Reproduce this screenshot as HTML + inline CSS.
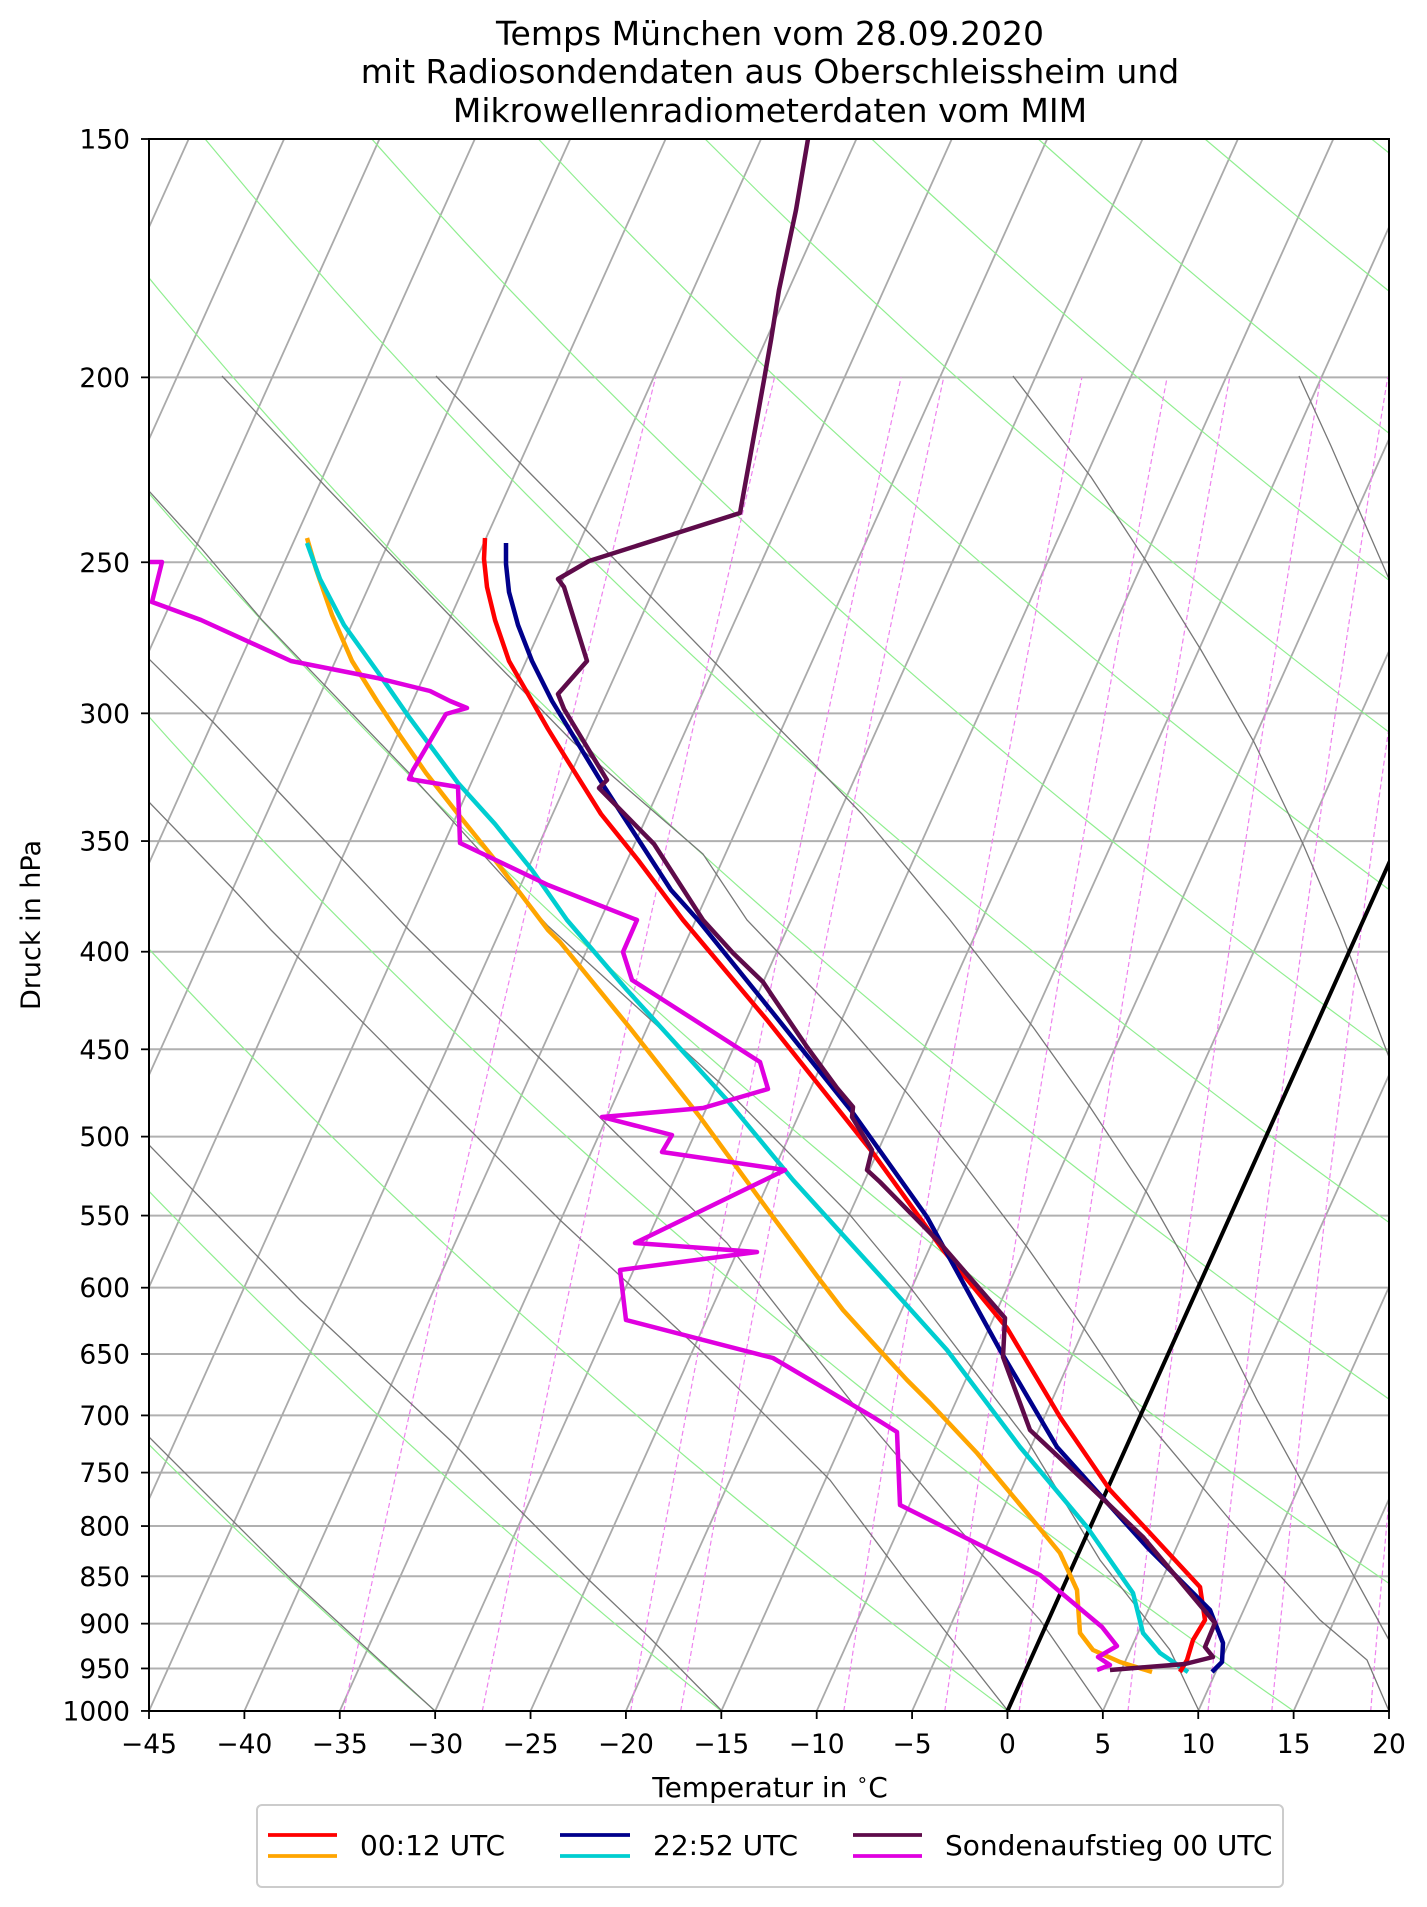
<!DOCTYPE html>
<html><head><meta charset="utf-8"><style>html,body{margin:0;padding:0;background:#fff}svg{display:block}</style></head>
<body>
<svg id="s" xmlns="http://www.w3.org/2000/svg" width="1427" height="1907" viewBox="0 0 1427 1907" font-family="DejaVu Sans, Liberation Sans, sans-serif">
<rect width="1427" height="1907" fill="#fff"/>
<defs><clipPath id="c"><rect x="149" y="139" width="1240" height="1572"/></clipPath></defs>
<g id="grid" clip-path="url(#c)"></g>
<g id="data" clip-path="url(#c)" fill="none" stroke-linejoin="round" stroke-linecap="butt"></g>
<rect x="149" y="139" width="1240" height="1572" fill="none" stroke="#000" stroke-width="2"/>
<g id="ticks"></g>
<g font-size="33" text-anchor="middle" fill="#000">
<text x="770" y="45">Temps München vom 28.09.2020</text>
<text x="770" y="83">mit Radiosondendaten aus Oberschleissheim und</text>
<text x="770" y="122">Mikrowellenradiometerdaten vom MIM</text>
</g>
<text x="770" y="1797" font-size="28" text-anchor="middle">Temperatur in <tspan font-size="19" dy="-11">∘</tspan><tspan dy="11">C</tspan></text>
<text transform="translate(40,925) rotate(-90)" font-size="27" text-anchor="middle">Druck in hPa</text>
<rect x="257" y="1805" width="1026" height="82" rx="5" fill="#fff" stroke="#ccc" stroke-width="2"/>
<g stroke-width="3.8">
<line x1="268" y1="1835" x2="337" y2="1835" stroke="#ff0000"/>
<line x1="268" y1="1856" x2="337" y2="1856" stroke="#ffa500"/>
<line x1="560" y1="1835" x2="630" y2="1835" stroke="#00008b"/>
<line x1="560" y1="1856" x2="630" y2="1856" stroke="#00ced1"/>
<line x1="853" y1="1835" x2="922" y2="1835" stroke="#5e0b4a"/>
<line x1="853" y1="1856" x2="922" y2="1856" stroke="#e000e0"/>
</g>
<g font-size="28" fill="#000">
<text x="360" y="1855">00:12 UTC</text>
<text x="653" y="1855">22:52 UTC</text>
<text x="945" y="1855">Sondenaufstieg 00 UTC</text>
</g>
</svg>
<script>
(function(){
var NS="http://www.w3.org/2000/svg";
var L=149,R=1389,T=139,B=1711,K=828.6,PX=19.077,SK=0.45;
function Y(p){return T+K*Math.log(p/150);}
function X(t,p){return L+(t+45)*PX+SK*(B-Y(p));}
var grid=document.getElementById('grid'),data=document.getElementById('data'),ticks=document.getElementById('ticks');
function el(par,tag,a){var e=document.createElementNS(NS,tag);for(var k in a)e.setAttribute(k,a[k]);par.appendChild(e);return e;}
function poly(par,pts,a){a.points=pts.map(function(q){return q[0].toFixed(1)+','+q[1].toFixed(1)}).join(' ');a.fill='none';return el(par,'polyline',a);}
var plev=[150,200,250,300,350,400,450,500,550,600,650,700,750,800,850,900,950,1000];
plev.forEach(function(p){el(grid,'line',{x1:L,x2:R,y1:Y(p),y2:Y(p),stroke:'#b0b0b0','stroke-width':2});});
for(var t=-160;t<=20;t+=5){el(grid,'line',{x1:X(t,1000),y1:Y(1000),x2:X(t,150),y2:Y(150),stroke:'#aaaaaa','stroke-width':1.8});}
for(var k=-4;k<=12;k++){var th=288.15+15*k,pts=[];for(var p=1000;p>=140;p-=10){pts.push([X(th*Math.pow(p/1000,0.285)-273.15,p),Y(p)]);}poly(grid,pts,{stroke:'#90ee90','stroke-width':1.2});}
[0.2,0.4,0.8,1,2,3,4,6,8,10,14].forEach(function(w){var pts=[];for(var p=1000;p>=200;p-=10){var e=w*p/(622+w),l=Math.log(e/6.112),td=243.5*l/(17.67-l);pts.push([X(td,p),Y(p)]);}poly(grid,pts,{stroke:'#ee82ee','stroke-width':1.2,'stroke-dasharray':'5,3'});});
var M=[
[[222,376],[326,487],[454,620],[573,742],[703,854],[747,920],[843,1020],[907,1093],[967,1168],[1027,1247],[1083,1327],[1140,1413],[1230,1520],[1320,1620],[1367,1660],[1389,1711]],
[[436,376],[524,467],[589,533],[760,709],[813,763],[862,814],[950,920],[1033,1027],[1090,1107],[1147,1193],[1200,1287],[1257,1400],[1389,1640]],
[[148,490],[201,548],[262,620],[409,773],[548,926],[720,1083],[850,1215],[910,1287],[1027,1440],[1100,1560],[1170,1650],[1199,1711]],
[[148,658],[213,722],[275,788],[409,930],[560,1078],[727,1243],[850,1400],[960,1530],[1040,1620],[1103,1711]],
[[148,801],[234,890],[271,930],[420,1080],[560,1220],[700,1350],[830,1480],[905,1580],[1008,1711]],
[[149,1145],[300,1300],[450,1440],[589,1580],[649,1637],[722,1711]],
[[149,1437],[292,1580],[435,1711]],
[[1013,376],[1091,477],[1148,564],[1201,650],[1254,742],[1303,844],[1340,930],[1367,1000],[1389,1057]],
[[1299,376],[1331,446],[1389,579]]];
M.forEach(function(m){poly(grid,m,{stroke:'#777','stroke-width':1.3});});
el(grid,'line',{x1:X(0,1000),y1:Y(1000),x2:X(0,150),y2:Y(150),stroke:'#000','stroke-width':4});
var S={
orange:[[307,538],[316,569],[332,615],[352,661],[377,701],[401,737],[426,773],[458,814],[495,860],[548,930],[560,942],[630,1028],[700,1117],[773,1217],[820,1280],[843,1310],[873,1343],[907,1380],[930,1403],[977,1453],[1027,1513],[1060,1553],[1077,1590],[1080,1633],[1093,1650],[1120,1662],[1152,1672]],
cyan:[[307,543],[320,579],[344,625],[377,671],[409,717],[458,783],[495,824],[532,870],[567,920],[627,990],[727,1100],[793,1180],[893,1290],[947,1350],[1020,1447],[1087,1527],[1133,1593],[1143,1633],[1160,1653],[1188,1672]],
red:[[485,538],[484,559],[487,587],[495,620],[509,661],[532,701],[548,729],[569,763],[601,814],[638,860],[683,920],[767,1020],[873,1153],[943,1250],[1007,1328],[1060,1417],[1110,1490],[1200,1587],[1205,1620],[1193,1640],[1187,1660],[1180,1672]],
navy:[[506,543],[506,564],[509,592],[518,625],[532,661],[552,701],[577,742],[605,788],[638,839],[671,890],[698,920],[773,1013],[853,1113],[927,1217],[1000,1350],[1057,1447],[1147,1547],[1210,1610],[1223,1643],[1222,1662],[1212,1672]],
sonde:[[808,139],[796,210],[779,290],[771,340],[764,380],[740,513],[589,561],[558,579],[564,587],[587,661],[558,694],[564,709],[607,780],[599,788],[654,844],[703,920],[733,953],[763,982],[773,997],[807,1047],[837,1088],[853,1107],[852,1117],[872,1150],[867,1170],[880,1182],[940,1243],[1005,1318],[1003,1357],[1030,1430],[1080,1477],[1143,1537],[1215,1623],[1205,1647],[1213,1657],[1185,1664],[1110,1670]],
mag:[[148,562],[162,562],[152,602],[201,620],[291,661],[377,678],[430,691],[450,701],[467,708],[446,714],[413,770],[409,779],[458,787],[460,843],[548,885],[637,920],[623,952],[632,980],[760,1062],[768,1089],[703,1108],[602,1117],[672,1135],[662,1152],[785,1170],[635,1243],[757,1252],[620,1270],[626,1320],[773,1358],[873,1417],[897,1432],[900,1505],[1040,1575],[1102,1627],[1117,1646],[1098,1657],[1110,1665],[1097,1670]]};
var C={orange:'#ffa500',cyan:'#00ced1',red:'#ff0000',navy:'#00008b',sonde:'#5e0b4a',mag:'#e000e0'};
['orange','cyan','red','navy','sonde','mag'].forEach(function(k){poly(data,S[k],{stroke:C[k],'stroke-width':4.5});});
for(var t=-45;t<=20;t+=5){var x=L+(t+45)*PX;el(ticks,'line',{x1:x,x2:x,y1:B,y2:B+8,stroke:'#000','stroke-width':1.8});var tx=el(ticks,'text',{x:x,y:1753,'font-size':26.5,'text-anchor':'middle'});tx.textContent=(t<0?'\u2212'+(-t):''+t);}
plev.forEach(function(p){var y=Y(p);el(ticks,'line',{x1:L-8,x2:L,y1:y,y2:y,stroke:'#000','stroke-width':1.8});var tx=el(ticks,'text',{x:130,y:y+9.5,'font-size':26.5,'text-anchor':'end'});tx.textContent=''+p;});
})();
</script>
</body></html>
